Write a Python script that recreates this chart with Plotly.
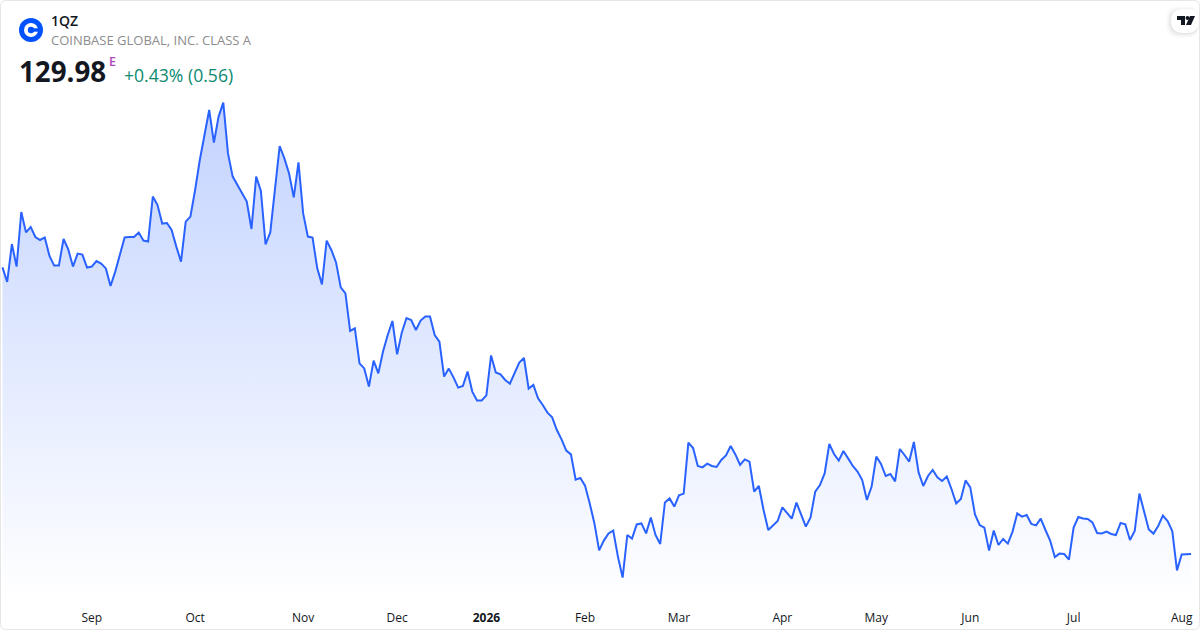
import plotly.graph_objects as go

prices = [
    273.3, 266, 285, 273.7, 301, 290.8, 293.5, 288.5, 287, 288.3, 279, 274.2, 274.2, 287.5, 282.3, 273.7,
    280.2, 279.7, 273.2, 273.7, 276.5, 275.2, 272.8, 264, 271.2, 280.3, 288.3, 288.5, 288.5, 290.7, 286.7, 286.2,
    308.7, 304.5, 295.2, 295.5, 292, 283.7, 276.2, 296.2, 298.7, 312, 327, 339.5, 352, 335.7, 348.7, 355.7,
    330.3, 318.7, 314.5, 310.3, 306.2, 292.5, 318.7, 311.5, 284.8, 290.8, 312.8, 334, 327.8, 320.3, 308.3, 325.8,
    300.3, 288.7, 288.2, 272.8, 264.8, 286.7, 282, 275.8, 263.3, 260.3, 241.5, 242.8, 225.3, 222.8, 213.7, 226.7,
    220.3, 231.2, 239.5, 246.5, 229.8, 240.8, 248, 247, 242, 246.7, 248.7, 248.7, 239.5, 236.2, 218.7, 222.7,
    218.3, 213.2, 214, 221.2, 211.2, 206.8, 206.8, 209.3, 229.3, 220.8, 219.8, 217, 215.2, 220.3, 225.7, 228,
    212.7, 214.5, 207.8, 204.5, 200.7, 198.3, 192,
    187.3, 181.7, 179.8, 167.2, 168, 164.2, 155.3, 145.3, 131.8, 136.7, 140.3, 141.7, 128.7, 118.2, 139.5, 137.7,
    144.8, 145.3, 140.3, 148.2, 139.5, 135, 155.7, 157.8, 153.7, 159.3, 160.2, 185.7, 183, 174, 173.3, 175.2,
    174, 173.5, 177, 179.3, 184, 179.8, 174.5, 177.3, 176.2, 161.2, 164, 152, 142, 144.3, 146.5, 153.3,
    150.3, 147.7, 155.7, 149.5, 143.7, 148.3, 161.2, 164.5, 170.3, 185, 180, 176.7, 181.5, 177.8, 174, 171.2,
    167, 157, 163.7, 178.7,
    175, 169, 170, 166.3, 182.5, 179.5, 176.2, 186, 170.8, 164, 169, 172, 168.3, 166.5, 168.7, 162.5,
    155.3, 157.5, 166.8, 163.3, 149.8, 144.5, 143.2, 131.7, 141.7, 134.5, 137.5, 135.2, 141.2, 150.3, 148.7, 149.5,
    145, 144.3, 147.7, 142, 136.7, 128.5, 130.2, 130, 127.2, 143.2, 148.5, 147.8, 147.5, 145.8, 140.5, 140.3,
    141.2, 140, 139.5, 145.5, 144.8, 137, 141.5, 160.2, 151.2, 142.3, 140.2, 144, 149.2, 146.5, 141.5, 121.8,
    129.8, 129.8, 129.98,
]
sessions = list(range(len(prices)))

tick_sessions = [19, 41, 64, 84, 103, 124, 144, 166, 186, 206, 228, 251]
tick_labels = ["Sep", "Oct", "Nov", "Dec", "<b>2026</b>", "Feb", "Mar", "Apr", "May", "Jun", "Jul", "Aug"]

WIDTH = 1200
HEIGHT = 630
BOTTOM = 28
PLOT_H = HEIGHT - BOTTOM
FONT = "Open Sans"


def px(x):
    return x / WIDTH


def py(y):
    return 1 - y / PLOT_H


def label(text, x, y, size, color, weight=400):
    return dict(
        text=text, x=px(x), y=py(y), xref="paper", yref="paper", xanchor="left", yanchor="middle",
        showarrow=False, font=dict(family=FONT, size=size, color=color, weight=weight),
    )


def rounded_box(x0, y0, x1, y1, r):
    # corners in page pixels
    return (
        f"M{px(x0 + r)},{py(y0)} L{px(x1 - r)},{py(y0)} Q{px(x1)},{py(y0)} {px(x1)},{py(y0 + r)} "
        f"L{px(x1)},{py(y1 - r)} Q{px(x1)},{py(y1)} {px(x1 - r)},{py(y1)} "
        f"L{px(x0 + r)},{py(y1)} Q{px(x0)},{py(y1)} {px(x0)},{py(y1 - r)} "
        f"L{px(x0)},{py(y0 + r)} Q{px(x0)},{py(y0)} {px(x0 + r)},{py(y0)} Z"
    )


def circle(cx, cy, r, color):
    return dict(
        type="circle", xref="paper", yref="paper", x0=px(cx - r), x1=px(cx + r), y0=py(cy + r), y1=py(cy - r),
        fillcolor=color, line_width=0, layer="above",
    )


def polygon(points, color):
    path = "M" + " L".join(f"{px(x)},{py(y)}" for x, y in points) + " Z"
    return dict(type="path", xref="paper", yref="paper", path=path, fillcolor=color, line_width=0, layer="above")


fig = go.Figure(
    go.Scatter(
        x=sessions,
        y=prices,
        mode="lines",
        line=dict(color="#2962ff", width=2),
        fill="tozeroy",
        fillgradient=dict(
            type="vertical",
            start=356,
            stop=106,
            colorscale=[[0, "rgba(41,98,255,0.28)"], [1, "rgba(41,98,255,0)"]],
        ),
        hoverinfo="skip",
    )
)

shapes = [
    # card border
    dict(type="path", xref="paper", yref="paper", path=rounded_box(0.5, 0.5, 1199.5, 629.5, 6),
         line=dict(color="#e6e6e6", width=1), layer="above"),
    # logo
    circle(31, 30, 12, "#0052ff"),
    circle(31, 30, 7, "#ffffff"),
    circle(31, 30, 3.2, "#0052ff"),
    polygon([(31, 28.3), (38.5, 28.3), (38.5, 31.7), (31, 31.7)], "#0052ff"),
]
# soft shadow under the TradingView badge
for grow, alpha in [(5, 0.012), (4, 0.016), (3, 0.02), (2, 0.025), (1, 0.03)]:
    shapes.append(dict(type="path", xref="paper", yref="paper",
                       path=rounded_box(1171 - grow, 9 - grow + 2, 1199, 33 + grow, 12),
                       fillcolor=f"rgba(0,0,0,{alpha})", line_width=0, layer="above"))
shapes += [
    dict(type="path", xref="paper", yref="paper", path=rounded_box(1171, 9, 1199, 33, 12),
         fillcolor="#ffffff", line_width=0, layer="above"),
    polygon([(1177, 16), (1185, 16), (1185, 25), (1181, 25), (1181, 20), (1177, 20)], "#131722"),
    polygon([(1190, 16), (1195, 16), (1191, 25), (1186, 25)], "#131722"),
    circle(1187.5, 18, 2, "#131722"),
]

fig.update_layout(
    width=WIDTH,
    height=HEIGHT,
    margin=dict(l=0, r=0, t=0, b=BOTTOM),
    paper_bgcolor="#ffffff",
    plot_bgcolor="#ffffff",
    showlegend=False,
    shapes=shapes,
    annotations=[
        label("1QZ", 49, 21, 14, "#131722", 600),
        label("COINBASE GLOBAL, INC. CLASS A", 49, 40, 13, "#8c8c8c"),
        label("129.98", 17, 71, 27.7, "#131722", 700),
        label("E", 107, 61, 12.5, "#ab47bc", 600),
        label("+0.43% (0.56)", 122, 75, 17.6, "#0a8a70"),
    ],
    xaxis=dict(
        range=[-0.53, 254.9],
        tickmode="array",
        tickvals=tick_sessions,
        ticktext=tick_labels,
        ticks="",
        showgrid=False,
        zeroline=False,
        showline=False,
        ticklabelstandoff=7,
        tickfont=dict(family=FONT, size=12, color="#131722"),
    ),
    yaxis=dict(range=[106, 407], visible=False),
)

fig.write_html("out.html", config={"displayModeBar": False}, post_script="document.body.style.margin='0';")
